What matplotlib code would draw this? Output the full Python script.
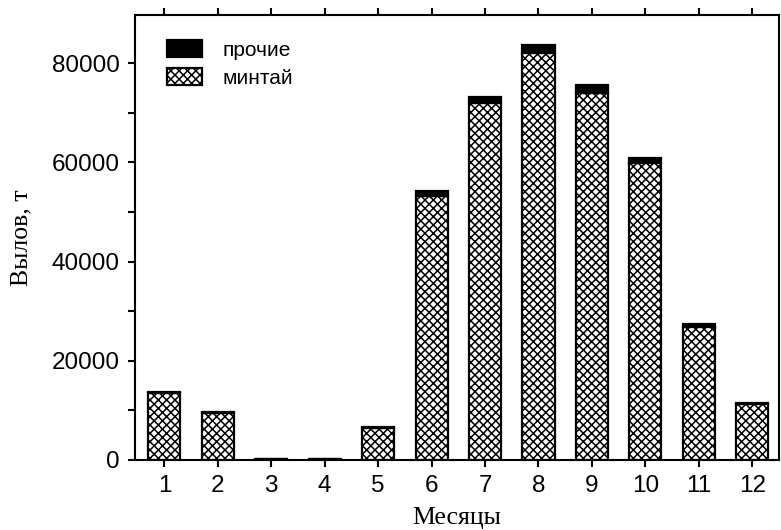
import numpy as np
import matplotlib
matplotlib.use('Agg')
import matplotlib.pyplot as plt
from matplotlib.patches import Patch

months = [1, 2, 3, 4, 5, 6, 7, 8, 9, 10, 11, 12]
# вылов минтая и прочих, т
pollock = [13500, 9500, 150, 150, 6400, 53300, 72000, 82000, 74000, 59800, 26900, 11200]
other = [300, 200, 50, 50, 200, 900, 1200, 1600, 1600, 1100, 500, 300]
yticks = [0, 20000, 40000, 60000, 80000]

plt.rcParams['hatch.linewidth'] = 1.1

fig = plt.figure(figsize=(7.81, 5.30), dpi=100)
ax = fig.add_axes([0.1729, 0.1321, 0.8245, 0.8396])

x = np.array(months)
ax.bar(x, pollock, width=0.6, color='white', edgecolor='black', hatch='xxxx', linewidth=1.6)
ax.bar(x, other, width=0.6, bottom=pollock, color='black', edgecolor='black', linewidth=1.6)

ax.set_xlim(0.45, 12.5)
ax.set_ylim(0, 89700)
ax.set_xticks(months)
ax.set_yticks(yticks)
ax.set_yticks(np.arange(10000, 90000, 20000), minor=True)
ax.set_yticklabels([str(v) for v in yticks])

for s in ax.spines.values():
    s.set_linewidth(1.5)

ax.tick_params(axis='both', which='both', direction='out', length=5, width=1.5,
               labelsize=17.5, pad=6)
ax.tick_params(axis='x', top=True)
for lab in ax.get_xticklabels() + ax.get_yticklabels():
    lab.set_family('Liberation Sans')

ax.set_xlabel('Месяцы', family='Liberation Serif', fontsize=18.5, labelpad=7)
ax.set_ylabel('Вылов, т', family='Liberation Serif', fontsize=18.5, labelpad=14)

handles = [Patch(facecolor='black', edgecolor='black', linewidth=1.6),
           Patch(facecolor='white', edgecolor='black', hatch='xxxx', linewidth=1.6)]
ax.legend(handles, ['прочие', 'минтай'], loc='upper left', bbox_to_anchor=(0.02, 0.985),
          frameon=False, prop={'family': 'Liberation Sans', 'size': 15},
          handlelength=1.7, handleheight=0.85, handletextpad=1.0, labelspacing=0.4)

fig.savefig('out.png', dpi=100)
